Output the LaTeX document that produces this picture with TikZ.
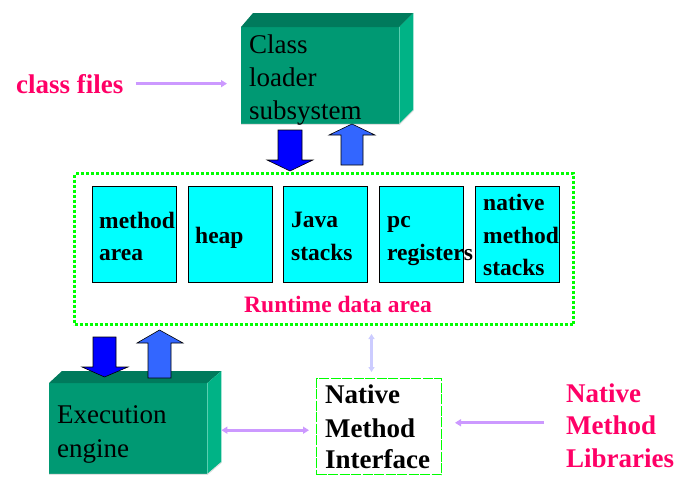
\documentclass[tikz,border=0pt]{standalone}
\usepackage{fontspec}
\setmainfont{LiberationSerif}[Extension=.ttf, UprightFont=*-Regular, BoldFont=*-Bold, ItalicFont=*-Italic, BoldItalicFont=*-BoldItalic]
\usetikzlibrary{arrows.meta}
\definecolor{frontg}{HTML}{009973}
\definecolor{topg}{HTML}{007A5C}
\definecolor{sideg}{HTML}{00B386}
\definecolor{memc}{HTML}{00FFFF}
\definecolor{pinkt}{HTML}{FF0066}
\definecolor{lav}{HTML}{CC99FF}
\definecolor{lavlight}{HTML}{CCCCFF}
\definecolor{frameg}{HTML}{00FF00}
\definecolor{dnblue}{HTML}{0000FF}
\definecolor{upblue}{HTML}{3366FF}
\begin{document}
\begin{tikzpicture}[x=1pt,y=-1pt,
  big/.style={font=\fontsize{27}{33}\selectfont, inner sep=0pt, anchor=base west},
  bigb/.style={font=\fontsize{27}{33}\selectfont\bfseries, inner sep=0pt, anchor=base west},
  smallb/.style={font=\fontsize{23.5}{30}\selectfont\bfseries, inner sep=0pt, anchor=base west},
  front/.style={fill=frontg, draw=none, inner sep=0pt, anchor=north west},
  mem/.style={fill=memc, draw=black, line width=1pt, minimum width=84pt, minimum height=96pt, inner sep=0pt, anchor=north west},
  blockarrow/.style={draw=black, line width=0.6pt},
  conn/.style={draw=lav, line width=3pt, -{Triangle[length=6pt,width=7pt]}},
  dconn/.style={draw=lav, line width=3pt, {Triangle[length=6pt,width=7pt]}-{Triangle[length=6pt,width=7pt]}},
  vconn/.style={draw=lavlight, line width=3pt, {Triangle[length=5pt,width=6pt]}-{Triangle[length=5pt,width=6pt]}}
]
\useasboundingbox (0,0) rectangle (683,479);

% Class loader subsystem (3D box)
\node[front, minimum width=158pt, minimum height=97pt] (cl) at (241,27) {};
\fill[topg] (cl.north west) -- ++(12,-14) -- ([shift={(14,-14)}]cl.north east) -- (cl.north east) -- cycle;
\fill[sideg] (cl.north east) -- ++(14,-14) -- ([shift={(14,-14)}]cl.south east) -- (cl.south east) -- cycle;
\draw[black!12, line width=1pt] (cl.south west) -- (cl.south east) -- ([shift={(14,-14)}]cl.south east);
\node[big] (cl1) at (249,53) {Class};
\node[big] (cl2) at (249,86) {loader};
\node[big] (cl3) at (249,119) {subsystem};

% class files
\node[bigb, text=pinkt] (cf) at (16,93) {class files};
\draw[conn, shorten <=12pt] (cf.east) -- ([xshift=-14pt]cf.east -| cl.west);

% block arrows between class loader and runtime data area
\fill[dnblue, blockarrow] (278,130) -- (302,130) -- (302,160) -- (313,160) -- (290,171) -- (267,160) -- (278,160) -- cycle;
\fill[upblue, blockarrow] (341,165) -- (363,165) -- (363,135) -- (375,135) -- (352,124) -- (329,135) -- (341,135) -- cycle;

% Runtime data area frame
\node[draw=frameg, line width=3pt, dash pattern=on 3pt off 2pt, minimum width=499pt, minimum height=151pt, inner sep=0pt, anchor=north west] (rda) at (73,172) {};

\node[mem] (m1) at (92,186) {};
\node[mem] (m2) at (188,186) {};
\node[mem] (m3) at (283,186) {};
\node[mem] (m4) at (379,186) {};
\node[mem] (m5) at (475,186) {};

\node[smallb] (t11) at (99,228) {method};
\node[smallb] (t12) at (99,260) {area};
\node[smallb] (t21) at (195,243) {heap};
\node[smallb] (t31) at (291,227) {Java};
\node[smallb] (t32) at (291,260) {stacks};
\node[smallb] (t41) at (387,227) {pc};
\node[smallb] (t42) at (387,260) {registers};
\node[smallb] (t51) at (483,210) {native};
\node[smallb] (t52) at (483,243) {method};
\node[smallb] (t53) at (483,275) {stacks};

\node[font=\fontsize{23.5}{30}\selectfont\bfseries, text=pinkt, inner sep=0pt, anchor=base] (rdat) at (338,312) {Runtime data area};

% Execution engine (3D box)
\node[front, minimum width=158pt, minimum height=91pt] (ee) at (49,383) {};
\fill[topg] (ee.north west) -- ++(13,-12) -- ([shift={(14,-12)}]ee.north east) -- (ee.north east) -- cycle;
\fill[sideg] (ee.north east) -- ++(14,-12) -- ([shift={(14,-12)}]ee.south east) -- (ee.south east) -- cycle;
\draw[black!12, line width=1pt] (ee.south west) -- (ee.south east) -- ([shift={(14,-12)}]ee.south east);
\node[big] (ee1) at (57,423) {Execution};
\node[big] (ee2) at (57,457) {engine};

% block arrows between runtime data area and execution engine
\fill[dnblue, blockarrow] (93,337) -- (116,337) -- (116,367) -- (128,367) -- (104.5,377) -- (82,367) -- (93,367) -- cycle;
\fill[upblue, blockarrow] (148,378) -- (171,378) -- (171,343) -- (183,343) -- (159.5,330) -- (137,343) -- (148,343) -- cycle;

% Native Method Interface
\node[draw=frameg, line width=1pt, dash pattern=on 10pt off 1.5pt, minimum width=125pt, minimum height=96pt, inner sep=0pt, anchor=north west] (nmi) at (316,378) {};
\node[bigb] (n1) at (325,403) {Native};
\node[bigb] (n2) at (325,437) {Method};
\node[bigb] (n3) at (325,468) {Interface};

% Native Method Libraries
\node[bigb, text=pinkt] (l1) at (566,402) {Native};
\node[bigb, text=pinkt] (l2) at (566,434) {Method};
\node[bigb, text=pinkt] (l3) at (566,467) {Libraries};

% connectors
\draw[dconn, shorten <=14pt, shorten >=7pt] ([yshift=-1.5pt]ee.east) -- ([yshift=-1.5pt]ee.east -| nmi.west);
\draw[conn, shorten <=22pt, shorten >=13pt] ([yshift=2pt]l2.west) -- ([yshift=2pt]l2.west -| nmi.east);
\draw[vconn, shorten <=8pt, shorten >=6pt] ([xshift=-7.5pt]nmi.north |- rda.south) -- ([xshift=-7.5pt]nmi.north);
\end{tikzpicture}
\end{document}
